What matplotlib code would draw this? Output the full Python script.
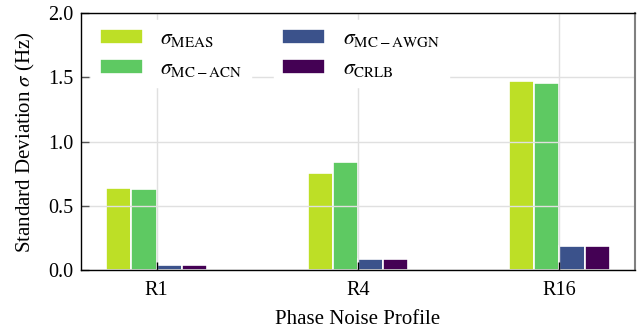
import numpy as np
import matplotlib
matplotlib.use("Agg")
import matplotlib.pyplot as plt

plt.rcParams['font.family'] = ['Liberation Serif', 'DejaVu Serif']
plt.rcParams['mathtext.fontset'] = 'stix'

# values
profiles = ["R1", "R4", "R16"]
sigma_meas = [0.640, 0.759, 1.470]
sigma_mc_acn = [0.630, 0.840, 1.459]
sigma_mc_awgn = [0.041, 0.090, 0.191]
sigma_crlb = [0.041, 0.090, 0.191]

labels = [r"$\sigma_{\mathrm{MEAS}}$", r"$\sigma_{\mathrm{MC-ACN}}$",
          r"$\sigma_{\mathrm{MC-AWGN}}$", r"$\sigma_{\mathrm{CRLB}}$"]
colors = ["#bddf26", "#5ec962", "#3b528b", "#440154"]

fig = plt.figure(figsize=(6.43, 3.3), dpi=100)
ax = fig.add_axes([0.126, 0.181, 0.8616, 0.779])

x = np.arange(len(profiles))
w = 0.125
series = [sigma_meas, sigma_mc_acn, sigma_mc_awgn, sigma_crlb]
bars = []
for i, (vals, c, lab) in enumerate(zip(series, colors, labels)):
    b = ax.bar(x + (i - 1.5) * w, vals, w, color=c, edgecolor="white",
               linewidth=1.2, label=lab)
    bars.append(b)

ax.set_ylim(0, 2.0)
ax.set_yticks([0.0, 0.5, 1.0, 1.5, 2.0])
ax.set_xticks(x)
ax.set_xticklabels(profiles)
ax.grid(True, color="#e0e0e0", linewidth=1.0)
ax.tick_params(direction="in", length=6, labelsize=14.5, width=1.0)
ax.tick_params(axis="y", colors="#555555", labelcolor="black", pad=5.5)
ax.tick_params(axis="x", pad=8)
ax.set_xlabel("Phase Noise Profile", fontsize=15, labelpad=7)
ax.set_ylabel(r"Standard Deviation $\sigma$ (Hz)", fontsize=15, labelpad=8)

for s in ["top", "left", "bottom"]:
    ax.spines[s].set_color("black")
    ax.spines[s].set_linewidth(1.0)
ax.spines["right"].set_color("#808080")
ax.spines["right"].set_linewidth(1.5)

leg_kw = dict(loc="upper left", fontsize=15.5, frameon=True, fancybox=False,
              edgecolor="white", facecolor="white", framealpha=1.0,
              borderaxespad=0.0, labelspacing=0.45)
leg1 = ax.legend([bars[0], bars[1]], labels[:2],
                 bbox_to_anchor=(0.018, 0.972), **leg_kw)
ax.add_artist(leg1)
ax.legend([bars[2], bars[3]], labels[2:],
          bbox_to_anchor=(0.348, 0.972), **leg_kw)

fig.savefig("out.png", dpi=100)
